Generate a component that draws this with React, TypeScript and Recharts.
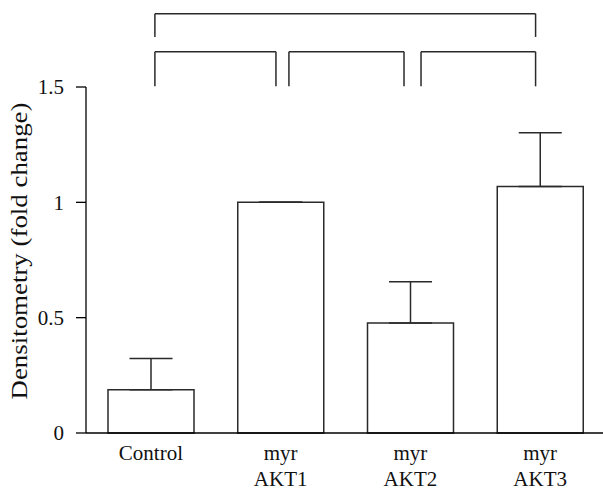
import React from 'react';
import { BarChart, Bar, XAxis, YAxis, ErrorBar, ReferenceLine } from 'recharts';

const positions = [0, 1, 2, 3];
const tickLines: string[][] = [['Control'], ['myr', 'AKT1'], ['myr', 'AKT2'], ['myr', 'AKT3']];
const means = [0.188, 1.0, 0.477, 1.069];
const errors = [0.135, 0, 0.179, 0.233];
const yTicks = [0, 0.5, 1, 1.5];
const yLabel = 'Densitometry (fold change)';

// significance brackets (x in category units, y in data units)
const topBracket = { from: 0.031, to: 2.965, y: 1.818, leg: 1.717 };
const pairBrackets = [
  { from: 0.031, to: 0.964 },
  { from: 1.064, to: 1.951 },
  { from: 2.082, to: 2.965 },
];
const pairY = 1.653;
const pairLeg = 1.503;

const data = positions.map((x, i) => ({ x, value: means[i], err: [0, errors[i]] }));

const FONT = 'Liberation Serif, Times New Roman, serif';
const INK = '#2a2a2a';

const XTick = (props: any) => {
  const { x, y, payload } = props;
  const lines = tickLines[positions.indexOf(payload.value)] || [];
  return (
    <g transform={`translate(${x},${y})`}>
      {lines.map((t, i) => (
        <text key={i} x={0} y={19 + i * 26} textAnchor="middle" fontSize={21} fontFamily={FONT} fill="#111">
          {t}
        </text>
      ))}
    </g>
  );
};

const YLabel = (props: any) => {
  const vb = props.viewBox || {};
  const cx = vb.x + 19;
  const cy = vb.y + vb.height / 2 - 9;
  return (
    <text
      x={cx}
      y={cy}
      transform={`rotate(-90, ${cx}, ${cy})`}
      textAnchor="middle"
      dominantBaseline="central"
      fontSize={24}
      textLength={297}
      lengthAdjust="spacingAndGlyphs"
      fontFamily={FONT}
      fill="#111"
    >
      {yLabel}
    </text>
  );
};

const seg = (x1: number, y1: number, x2: number, y2: number, key: string) => (
  <ReferenceLine
    key={key}
    segment={[{ x: x1, y: y1 }, { x: x2, y: y2 }]}
    stroke={INK}
    strokeWidth={1.5}
    ifOverflow="visible"
  />
);

export default function App() {
  const lines: React.ReactNode[] = [];
  lines.push(seg(topBracket.from, topBracket.leg, topBracket.from, topBracket.y, 'tl'));
  lines.push(seg(topBracket.from, topBracket.y, topBracket.to, topBracket.y, 'th'));
  lines.push(seg(topBracket.to, topBracket.y, topBracket.to, topBracket.leg, 'tr'));
  pairBrackets.forEach((b, i) => {
    lines.push(seg(b.from, pairLeg, b.from, pairY, `pl${i}`));
    lines.push(seg(b.from, pairY, b.to, pairY, `ph${i}`));
    lines.push(seg(b.to, pairY, b.to, pairLeg, `pr${i}`));
  });

  return (
    <div style={{ position: 'absolute', left: 0, top: 0, width: 603, height: 494, overflow: 'hidden', background: '#fff' }}>
      <BarChart
        width={605}
        height={494}
        data={data}
        margin={{ top: 87, right: 0, bottom: 0, left: 0 }}
        style={{ fontFamily: FONT }}
      >
        <XAxis
          type="number"
          dataKey="x"
          domain={[-0.5, 3.5]}
          ticks={positions}
          interval={0}
          tick={<XTick />}
          tickLine={false}
          axisLine={{ stroke: '#000', strokeWidth: 1.3 }}
          height={61}
        />
        <YAxis
          type="number"
          domain={[0, 1.5]}
          ticks={yTicks}
          interval={0}
          width={86}
          tickSize={10}
          tickMargin={12}
          tickFormatter={(v: number) => String(v)}
          tick={{ fontSize: 21, fill: '#111', fontFamily: FONT }}
          tickLine={{ stroke: '#000', strokeWidth: 1.3 }}
          axisLine={{ stroke: '#000', strokeWidth: 1.3 }}
          label={<YLabel />}
        />
        <Bar dataKey="value" barSize={86} fill="#fff" stroke={INK} strokeWidth={1.5} isAnimationActive={false}>
          <ErrorBar dataKey="err" direction="y" width={21.5} stroke={INK} strokeWidth={1.5} />
        </Bar>
        {lines}
      </BarChart>
    </div>
  );
}
